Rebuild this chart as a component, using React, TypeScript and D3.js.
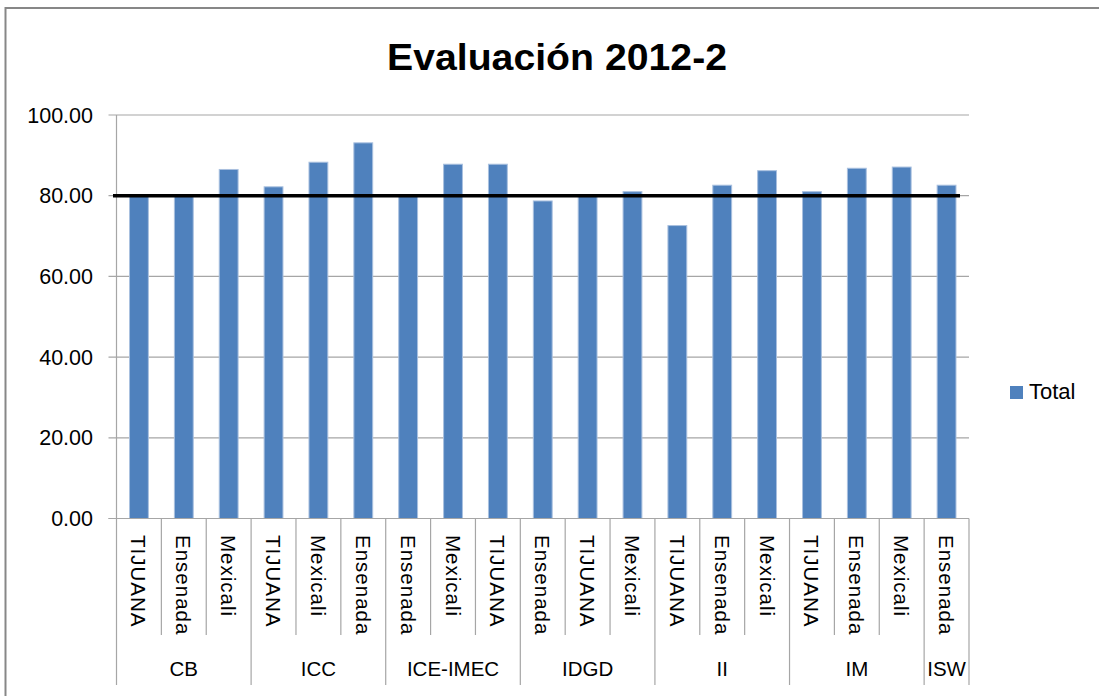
import React from "react";
import * as d3 from "d3";

const campuses = [
  "TIJUANA", "Ensenada", "Mexicali",
  "TIJUANA", "Mexicali", "Ensenada",
  "Ensenada", "Mexicali", "TIJUANA",
  "Ensenada", "TIJUANA", "Mexicali",
  "TIJUANA", "Ensenada", "Mexicali",
  "TIJUANA", "Ensenada", "Mexicali",
  "Ensenada",
];
const programs = [
  "CB", "CB", "CB",
  "ICC", "ICC", "ICC",
  "ICE-IMEC", "ICE-IMEC", "ICE-IMEC",
  "IDGD", "IDGD", "IDGD",
  "II", "II", "II",
  "IM", "IM", "IM",
  "ISW",
];
const totals = [
  79.8, 79.9, 86.5,
  82.2, 88.3, 93.1,
  79.9, 87.8, 87.8,
  78.7, 79.9, 81.0,
  72.6, 82.6, 86.2,
  81.0, 86.8, 87.1,
  82.6,
];
const yTicks = [0, 20, 40, 60, 80, 100];
const target = 80;
const title = "Evaluación 2012-2";
const seriesName = "Total";

const W = 1099;
const H = 696;
const left = 116.5;
const right = 969;
const top = 115;
const bottom = 518.5;
const font = "'Liberation Sans', Arial, sans-serif";

export default function App() {
  const idx = totals.map((_, i) => String(i));
  const x = d3.scaleBand<string>().domain(idx).range([left, right]).padding(0);
  const y = d3.scaleLinear().domain([0, 100]).range([bottom, top]);
  const bw = x.bandwidth();
  const barW = bw * 0.42;

  const groups: { name: string; start: number; end: number }[] = [];
  programs.forEach((p, i) => {
    const g = groups[groups.length - 1];
    if (g && g.name === p) g.end = i;
    else groups.push({ name: p, start: i, end: i });
  });

  const innerBottom = 635;
  const outerBottom = 685;

  return (
    <svg
      width={W}
      height={H}
      style={{ position: "absolute", left: 0, top: 0, background: "#fff" }}
      fontFamily={font}
    >
      <rect x={0} y={0} width={W} height={H} fill="#fff" />
      <rect x={5.5} y={8} width={W + 10} height={H + 10} fill="none" stroke="#878787" strokeWidth={2} />
      <text
        x={557}
        y={70}
        textAnchor="middle"
        fontSize={36}
        fontWeight="bold"
        textLength={340}
        lengthAdjust="spacingAndGlyphs"
        fill="#000"
      >
        {title}
      </text>

      {yTicks.map((t) => (
        <g key={t}>
          <line x1={left - 8} x2={right} y1={y(t)} y2={y(t)} stroke="#a6a6a6" strokeWidth={1.2} />
          <text x={93} y={y(t) + 7.5} textAnchor="end" fontSize={21.5} fill="#000">
            {t.toFixed(2)}
          </text>
        </g>
      ))}
      <line x1={left} x2={left} y1={top} y2={bottom} stroke="#a6a6a6" strokeWidth={1.2} />

      {totals.map((v, i) => (
        <rect
          key={i}
          x={(x(String(i)) as number) + (bw - barW) / 2}
          y={y(v)}
          width={barW}
          height={y(0) - y(v)}
          fill="#4f81bd"
          stroke="#a9c0df"
          strokeWidth={1}
        />
      ))}

      <line x1={113} x2={960} y1={y(target)} y2={y(target)} stroke="#000" strokeWidth={3.5} />

      <line x1={left - 8} x2={right} y1={bottom} y2={bottom} stroke="#a6a6a6" strokeWidth={1.2} />
      {totals.map((_, i) => {
        const xs = (x(String(i)) as number) + bw;
        const isGroupEnd = groups.some((g) => g.end === i);
        if (isGroupEnd) return null;
        return <line key={"s" + i} x1={xs} x2={xs} y1={bottom} y2={innerBottom} stroke="#a6a6a6" strokeWidth={1.2} />;
      })}
      <line x1={left} x2={left} y1={bottom} y2={outerBottom} stroke="#a6a6a6" strokeWidth={1.2} />
      {groups.map((g) => {
        const xe = (x(String(g.end)) as number) + bw;
        const xs = x(String(g.start)) as number;
        return (
          <g key={g.name}>
            <line x1={xe} x2={xe} y1={bottom} y2={outerBottom} stroke="#a6a6a6" strokeWidth={1.2} />
            <text x={(xs + xe) / 2} y={676} textAnchor="middle" fontSize={20.5} fill="#000">
              {g.name}
            </text>
          </g>
        );
      })}
      {campuses.map((c, i) => {
        const cx = (x(String(i)) as number) + bw / 2;
        return (
          <text
            key={"c" + i}
            transform={`translate(${cx - 7.5},535) rotate(90)`}
            fontSize={20.5}
            letterSpacing={1}
            fill="#000"
          >
            {c}
          </text>
        );
      })}

      <rect x={1010} y={386} width={13} height={13} fill="#4f81bd" />
      <text x={1029} y={399} fontSize={22} fill="#000">
        {seriesName}
      </text>
    </svg>
  );
}
